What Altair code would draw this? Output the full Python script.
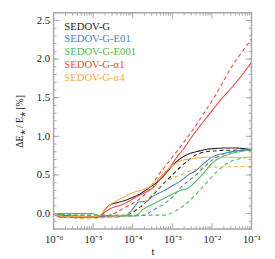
import altair as alt
import pandas as pd

# ---------------- data ----------------
SERIES = ["SEDOV-G", "SEDOV-G-E01", "SEDOV-G-E001", "SEDOV-G-α1", "SEDOV-G-α4"]
COLORS = ["#222222", "#4f81b8", "#4dbb57", "#e84a45", "#f7aa4c"]

# log10(t) sample positions and ΔE/E [%] values
G_SOLID_LT = [-6, -5.8, -5.0, -4.85, -4.7, -4.55, -4.4, -4.2, -4.0, -3.8, -3.6, -3.4, -3.2, -3.0, -2.8, -2.6, -2.4, -2.0, -1.5, -1.0]
G_SOLID_V = [0, -0.02, -0.04, -0.04, 0.05, 0.12, 0.14, 0.17, 0.21, 0.26, 0.33, 0.40, 0.50, 0.62, 0.71, 0.77, 0.80, 0.84, 0.85, 0.83]
G_DASH_LT = [-6, -5.8, -5.0, -4.8, -4.4, -4.2, -4.0, -3.8, -3.6, -3.4, -3.2, -3.0, -2.8, -2.6, -2.4, -2.0, -1.5, -1.0]
G_DASH_V = [0, -0.03, -0.03, -0.04, -0.04, -0.03, 0.02, 0.09, 0.19, 0.29, 0.40, 0.50, 0.60, 0.69, 0.76, 0.81, 0.82, 0.82]

E01_SOLID_LT = [-6, -5.8, -5.0, -4.8, -4.4, -4.2, -4.0, -3.85, -3.65, -3.5, -3.2, -3.0, -2.8, -2.6, -2.4, -2.2, -2.0, -1.7, -1.4, -1.0]
E01_SOLID_V = [0, -0.04, -0.05, -0.04, -0.04, -0.03, 0.06, 0.15, 0.16, 0.22, 0.30, 0.36, 0.42, 0.50, 0.56, 0.65, 0.73, 0.78, 0.81, 0.83]
E01_DASH_LT = [-6, -5.8, -4.0, -3.7, -3.5, -3.2, -3.0, -2.8, -2.6, -2.4, -2.2, -2.0, -1.7, -1.4, -1.0]
E01_DASH_V = [0, -0.03, -0.03, -0.02, 0.04, 0.13, 0.21, 0.33, 0.42, 0.50, 0.60, 0.69, 0.77, 0.81, 0.83]

E001_SOLID_LT = [-6, -5.0, -4.9, -4.0, -3.9, -3.75, -3.5, -3.2, -3.0, -2.8, -2.6, -2.4, -2.2, -2.0, -1.8, -1.5, -1.2, -1.0]
E001_SOLID_V = [0, 0.0, -0.02, -0.03, -0.02, 0.05, 0.12, 0.20, 0.25, 0.30, 0.33, 0.42, 0.53, 0.65, 0.72, 0.78, 0.81, 0.83]
E001_DASH_LT = [-6, -5.8, -5.0, -3.2, -2.9, -2.6, -2.35, -2.1, -1.9, -1.7, -1.5, -1.2, -1.0]
E001_DASH_V = [0, -0.01, -0.02, -0.02, 0.04, 0.15, 0.28, 0.42, 0.53, 0.62, 0.68, 0.72, 0.73]

A1_SOLID_LT = [-6, -5.8, -5.0, -4.85, -4.7, -4.5, -4.3, -4.1, -3.9, -3.7, -3.5, -3.3, -3.1, -2.9, -2.7, -2.5, -2.2, -2.0, -1.7, -1.5, -1.2, -1.0]
A1_SOLID_V = [0, -0.05, -0.05, -0.04, 0.02, 0.08, 0.11, 0.16, 0.22, 0.27, 0.33, 0.45, 0.57, 0.72, 0.85, 1.0, 1.2, 1.33, 1.52, 1.63, 1.82, 1.96]
A1_DASH_LT = [-6, -5.8, -4.8, -4.6, -4.4, -4.2, -4.0, -3.8, -3.6, -3.4, -3.2, -3.0, -2.8, -2.5, -2.2, -1.9, -1.5, -1.2, -1.0]
A1_DASH_V = [0, -0.04, -0.05, -0.03, 0.02, 0.08, 0.13, 0.20, 0.30, 0.46, 0.60, 0.73, 0.86, 1.07, 1.30, 1.54, 1.90, 2.12, 2.26]

A4_SOLID_LT = [-6, -5.8, -5.0, -4.85, -4.7, -4.55, -4.4, -4.2, -4.0, -3.8, -3.6, -3.4, -3.2, -3.0, -2.8, -2.5, -2.0, -1.0]
A4_SOLID_V = [0, -0.03, -0.04, -0.03, 0.05, 0.12, 0.17, 0.22, 0.27, 0.30, 0.34, 0.42, 0.53, 0.62, 0.68, 0.71, 0.73, 0.73]
A4_DASH_LT = [-6, -5.8, -5.0, -4.85, -4.5, -4.2, -4.0, -3.8, -3.6, -3.4, -3.2, -3.0, -2.8, -2.5, -2.2, -2.0, -1.0]
A4_DASH_V = [0, -0.04, -0.07, -0.06, -0.04, -0.03, 0.03, 0.10, 0.20, 0.30, 0.41, 0.46, 0.50, 0.56, 0.59, 0.60, 0.61]

X_MAJOR = [1e-6, 1e-5, 1e-4, 1e-3, 1e-2, 1e-1]
X_MINOR = [m * d for d in [1e-6, 1e-5, 1e-4, 1e-3, 1e-2] for m in range(2, 10)]
Y_MAJOR = [0.0, 0.5, 1.0, 1.5, 2.0, 2.5]
Y_MINOR = [round(-0.2 + 0.1 * i, 1) for i in range(29)]

X_DOMAIN = [1e-6, 1e-1]
Y_DOMAIN = [-0.2, 2.6]

# ---------------- build table ----------------
curves = [
    ("SEDOV-G", "solid", G_SOLID_LT, G_SOLID_V),
    ("SEDOV-G", "dashed", G_DASH_LT, G_DASH_V),
    ("SEDOV-G-E01", "solid", E01_SOLID_LT, E01_SOLID_V),
    ("SEDOV-G-E01", "dashed", E01_DASH_LT, E01_DASH_V),
    ("SEDOV-G-E001", "solid", E001_SOLID_LT, E001_SOLID_V),
    ("SEDOV-G-E001", "dashed", E001_DASH_LT, E001_DASH_V),
    ("SEDOV-G-α1", "solid", A1_SOLID_LT, A1_SOLID_V),
    ("SEDOV-G-α1", "dashed", A1_DASH_LT, A1_DASH_V),
    ("SEDOV-G-α4", "solid", A4_SOLID_LT, A4_SOLID_V),
    ("SEDOV-G-α4", "dashed", A4_DASH_LT, A4_DASH_V),
]
rows = []
for name, style, lts, vs in curves:
    for i, (lt, v) in enumerate(zip(lts, vs)):
        rows.append({"series": name, "style": style, "key": name + style, "i": i, "t": 10 ** lt, "v": v})
df = pd.DataFrame(rows)

W, H = 204, 223
FONT = "Liberation Serif"
FRAME = "#a8a8a8"

xscale = alt.Scale(type="log", domain=X_DOMAIN, nice=False)
yscale = alt.Scale(domain=Y_DOMAIN, nice=False, zero=False)
cscale = alt.Scale(domain=SERIES, range=COLORS)

XAXIS = alt.Axis(
    values=X_MAJOR, ticks=False, domain=False, grid=False,
    labelExpr="'10⁻' + ['⁰','¹','²','³','⁴','⁵','⁶'][round(-log(datum.value)/LN10)]",
    labelFont=FONT, labelFontSize=11, labelColor="#222", labelPadding=5,
    title="t", titleFont=FONT, titleFontSize=11, titleFontWeight="normal",
    titleColor="#222", titlePadding=1, labelFlush=False, labelOverlap=False)
YAXIS = alt.Axis(
    values=Y_MAJOR, format=".1f", ticks=False, domain=False, grid=False,
    labelFont=FONT, labelFontSize=11, labelColor="#222", labelPadding=4,
    title="ΔE⁎ / E⁎  [%]", titleFont=FONT, titleFontSize=10,
    titleFontWeight="normal", titleColor="#222", titlePadding=12)

lines = alt.Chart(df).mark_line(strokeWidth=1.1, interpolate="monotone", clip=True).encode(
    x=alt.X("t:Q", scale=xscale, axis=XAXIS),
    y=alt.Y("v:Q", scale=yscale, axis=YAXIS),
    color=alt.Color("series:N", scale=cscale, legend=None),
    strokeDash=alt.StrokeDash("style:N", scale=alt.Scale(domain=["solid", "dashed"], range=[[1, 0], [4, 3]]), legend=None),
    detail="key:N",
    order="i:Q",
)

def xticks(values, length):
    d = pd.DataFrame({"t": values})
    base = alt.Chart(d).mark_rule(color=FRAME, strokeWidth=1)
    bottom = base.encode(x=alt.X("t:Q", scale=xscale, axis=XAXIS), y=alt.value(H), y2=alt.value(H - length))
    top = base.encode(x=alt.X("t:Q", scale=xscale, axis=XAXIS), y=alt.value(0), y2=alt.value(length))
    return [bottom, top]

def yticks(values, length):
    d = pd.DataFrame({"v": values})
    base = alt.Chart(d).mark_rule(color=FRAME, strokeWidth=1)
    left = base.encode(y=alt.Y("v:Q", scale=yscale, axis=YAXIS), x=alt.value(0), x2=alt.value(length))
    right = base.encode(y=alt.Y("v:Q", scale=yscale, axis=YAXIS), x=alt.value(W), x2=alt.value(W - length))
    return [left, right]

tick_layers = xticks(X_MAJOR, 6) + xticks(X_MINOR, 3) + yticks(Y_MAJOR, 6) + yticks(Y_MINOR, 3)

legend_df = pd.DataFrame({"series": SERIES})
legend = alt.Chart(legend_df).transform_window(
    idx="row_number()"
).transform_calculate(
    yy="14.5 + 13.1 * (datum.idx - 1)"
).mark_text(align="left", baseline="middle", font=FONT, fontSize=11).encode(
    x=alt.value(11),
    y=alt.Y("yy:Q", scale=None),
    text="series:N",
    color=alt.Color("series:N", scale=cscale, legend=None),
)

chart = alt.layer(lines, *tick_layers, legend).properties(
    width=W, height=H,
    padding={"left": 47, "top": 1, "right": 16, "bottom": 27},
    autosize="none",
).configure_view(stroke=FRAME, strokeWidth=1.5)

chart.save("out.html", embed_options={"renderer": "svg", "actions": False})
